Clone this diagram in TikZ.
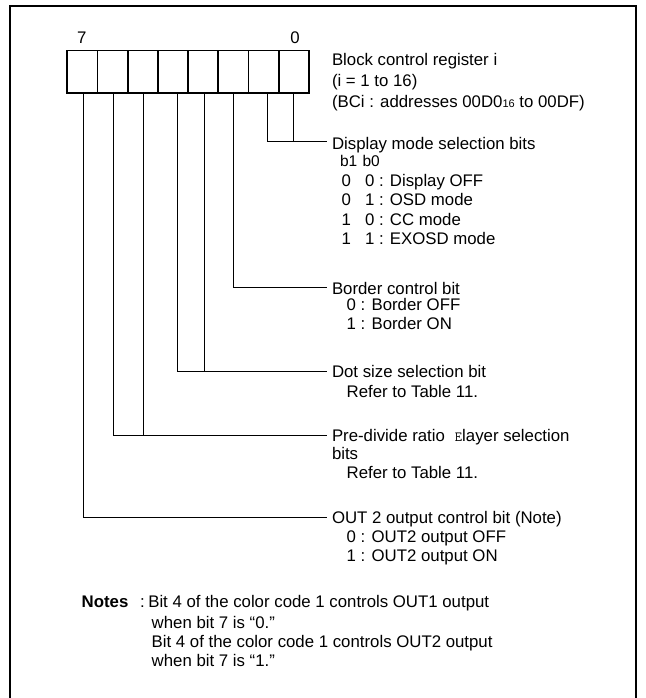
\documentclass[tikz,border=0pt]{standalone}
\usepackage{fontspec}
\setmainfont{Liberation Sans}
\begin{document}
\begin{tikzpicture}[x=1pt,y=-1pt,
  txt/.style={anchor=base west, inner sep=0pt, outer sep=0pt, font=\fontsize{16.8}{20}\selectfont},
  cell/.style={draw, line width=1.8pt, minimum width=30.21pt, minimum height=42.2pt, inner sep=0pt, outer sep=0pt},
  conn/.style={line width=1pt},
  frame/.style={line width=2pt}]
\clip (0,0) rectangle (645,698);
\useasboundingbox (0,0) rectangle (645,698);
\draw[frame] (10,6) rectangle (636,730);

% register cells
\foreach \b [count=\k from 0] in {7,6,5,4,3,2,1,0}
  \node[cell] (c\b) at ({82.4+30.21*\k},71.6) {};
\node[txt, anchor=base] (n7) at (81.7,44) {7};
\node[txt, anchor=base] (n0) at (295,44) {0};

% register title
\node[txt] (t1) at (332,66) {Block control register i};
\node[txt] (t2) at (332,86.7) {(i = 1 to 16)};
\node[txt] (t3) at (332,107.5) {(BCi : addresses 00D0{\fontsize{11}{11}\selectfont 16} to 00DF)};

% connector end points
\coordinate (dispE) at (326.7,141.3);
\coordinate (bordE) at (326.7,287.3);
\coordinate (dotE)  at (326.7,371.3);
\coordinate (preE)  at (326.7,435.3);
\coordinate (outE)  at (326.7,517);

% connectors
\draw[conn] ([xshift=3.5pt]c1.south) |- (dispE);
\draw[conn] (c0.south) -- (c0.south |- dispE);
\draw[conn] (c2.south) |- (bordE);
\draw[conn] ([xshift=4.3pt]c4.south) |- (dotE);
\draw[conn] ([xshift=1pt]c3.south) -- ([xshift=1pt]c3.south |- dotE);
\draw[conn] ([xshift=0.7pt]c6.south) |- (preE);
\draw[conn] ([xshift=0.5pt]c5.south) -- ([xshift=0.5pt]c5.south |- preE);
\draw[conn] ([xshift=0.9pt]c7.south) |- (outE);

% display mode
\node[txt] (d0) at (332,149) {Display mode selection bits};
\node[txt, font=\fontsize{15.5}{18}\selectfont] (d1) at (340,166) {b1\hspace{1pt} b0};
\node[txt] (d2a) at (341.7,186) {0};
\node[txt] (d2b) at (365,186) {0 : Display OFF};
\node[txt] (d3a) at (341.7,205.3) {0};
\node[txt] (d3b) at (365,205.3) {1 : OSD mode};
\node[txt] (d4a) at (341.7,225) {1};
\node[txt] (d4b) at (365,225) {0 : CC mode};
\node[txt] (d5a) at (341.7,244.3) {1};
\node[txt] (d5b) at (365,244.3) {1 : EXOSD mode};

% border
\node[txt] (b0) at (332,294) {Border control bit};
\node[txt] (b1) at (346.7,310) {0 : Border OFF};
\node[txt] (b2) at (346.7,329.3) {1 : Border ON};

% dot size
\node[txt] (s0) at (332,377.7) {Dot size selection bit};
\node[txt] (s1) at (346.7,397.7) {Refer to Table 11.};

% pre-divide
\node[txt] (p0) at (332,441) {Pre-divide ratio\hspace{10pt}{\ttfamily\fontsize{14}{14}\selectfont E}layer selection};
\node[txt] (p1) at (332,459.3) {bits};
\node[txt] (p2) at (346.7,478.7) {Refer to Table 11.};

% out2
\node[txt] (o0) at (332,523.3) {OUT 2 output control bit (Note)};
\node[txt] (o1) at (346.7,542) {0 : OUT2 output OFF};
\node[txt] (o2) at (346.7,561) {1 : OUT2 output ON};

% notes
\node[txt, font=\fontsize{16.8}{20}\selectfont\bfseries] (nt) at (81.7,607.7) {Notes};
\node[txt] (nc) at (140,607.7) {:};
\node[txt] (nl1) at (148.3,607.7) {Bit 4 of the color code 1 controls OUT1 output};
\node[txt] (nl2) at (151.7,628.7) {when bit 7 is “0.”};
\node[txt] (nl3) at (151.7,647.7) {Bit 4 of the color code 1 controls OUT2 output};
\node[txt] (nl4) at (151.7,666) {when bit 7 is “1.”};
\end{tikzpicture}
\end{document}
